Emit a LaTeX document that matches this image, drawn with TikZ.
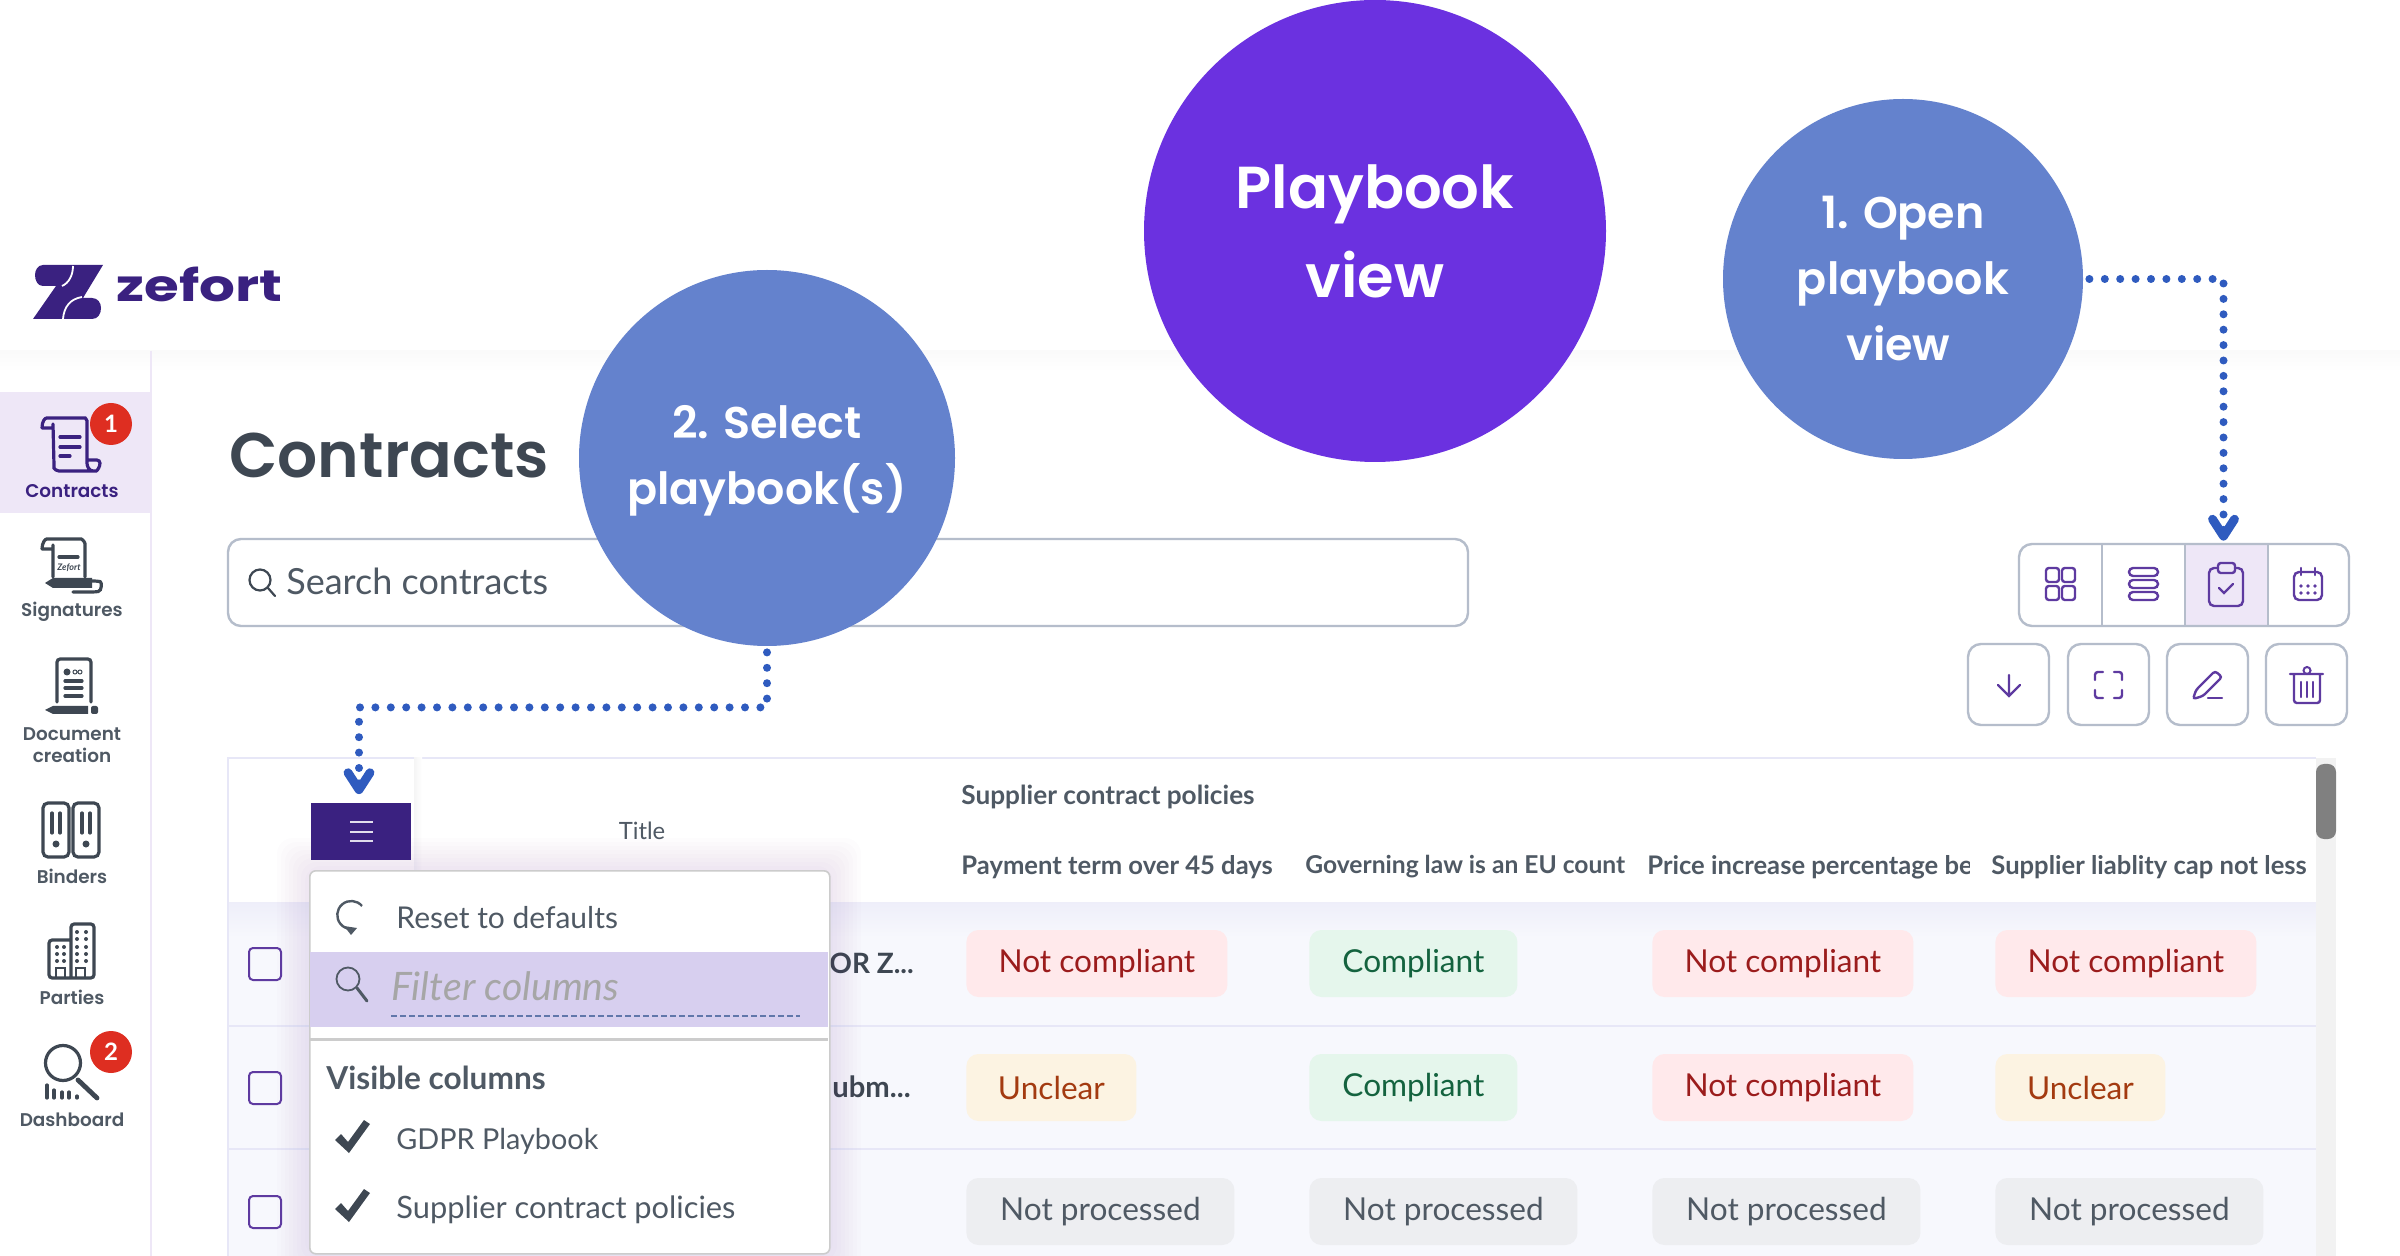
\documentclass[tikz,border=0pt]{standalone}
\usepackage{fontspec}
\setmainfont{Lato}
\newfontfamily\logofont[FakeStretch=1.28]{Poppins Bold}
\newfontfamily\popmed{Poppins SemiBold}
\usetikzlibrary{arrows.meta,calc}

\definecolor{bubbleblue}{HTML}{6482CD}
\definecolor{bubbleviolet}{HTML}{6B31E0}
\definecolor{arrowblue}{HTML}{2F5BBF}
\definecolor{brandviolet}{HTML}{3A2180}
\definecolor{toolviolet}{HTML}{5E3AA0}
\definecolor{softviolet}{HTML}{EEE7F7}
\definecolor{bandviolet}{HTML}{D7CFEF}
\definecolor{inkgrey}{HTML}{3E4752}
\definecolor{midgrey}{HTML}{4F5964}
\definecolor{framegrey}{HTML}{B5BDCB}
\definecolor{rowtint}{HTML}{F7F8FD}
\definecolor{rowline}{HTML}{E7E7F7}
\definecolor{badgered}{HTML}{DE2E21}
\definecolor{failbg}{HTML}{FFE9EB}
\definecolor{failtext}{HTML}{9B1C1C}
\definecolor{passbg}{HTML}{E5F6EC}
\definecolor{passtext}{HTML}{14633F}
\definecolor{vaguebg}{HTML}{FCF3E2}
\definecolor{vaguetext}{HTML}{A33A10}
\definecolor{idlebg}{HTML}{EDEEF1}

\tikzset{
  bubble/.style={circle,inner sep=0pt,text=white,align=center},
  dotarrow/.style={draw=arrowblue,line width=4pt,line cap=round,dash pattern=on 0pt off 7.7pt,
    -{Straight Barb[round,length=8.5pt,width=11pt,line width=4.4pt]}},
  pill/.style={rounded corners=6pt,minimum height=33.5pt,inner sep=0pt,
    font=\fontsize{15.8}{18}\selectfont},
  notcomp/.style={pill,fill=failbg,text=failtext,minimum width=130.5pt},
  comp/.style={pill,fill=passbg,text=passtext,minimum width=104pt},
  unclear/.style={pill,fill=vaguebg,text=vaguetext,minimum width=85pt},
  notproc/.style={pill,fill=idlebg,text=midgrey,minimum width=134pt},
  headtext/.style={anchor=west,inner sep=0pt,text=midgrey,font=\fontsize{12.8}{15}\selectfont\bfseries},
  menutext/.style={anchor=west,inner sep=0pt,text=midgrey,font=\fontsize{15}{18}\selectfont},
  sidetext/.style={inner sep=0pt,text=midgrey,align=center,font=\popmed\fontsize{9.2}{11}\selectfont},
  sideicon/.style={draw=inkgrey,line width=1.6pt,line cap=round,rounded corners=1.6pt},
  toolicon/.style={draw=toolviolet,line width=1.2pt,line cap=round,rounded corners=1.4pt},
  framebox/.style={draw=framegrey,line width=1.2pt,rounded corners=6.5pt},
  tickbox/.style={draw=toolviolet,line width=1pt,rounded corners=2pt},
  badge/.style={circle,fill=badgered,text=white,inner sep=0pt,minimum size=21pt,
    font=\fontsize{12}{14}\selectfont\bfseries},
}

\begin{document}
\begin{tikzpicture}[x=0.5pt,y=-0.5pt]
  \useasboundingbox (0,0) rectangle (2400,1256);
  \fill[white] (0,0) rectangle (2400,1256);
  \shade[top color=black!2,bottom color=white] (0,351) rectangle (2400,372);
  \draw[softviolet,line width=1pt] (151,351) -- (151,1256);

  % logo
  \fill[brandviolet] (43,265) -- (103,265) -- (83,298) -- (92,298) .. controls (98,298) and (101,303) .. (101,308)
    .. controls (101,314) and (98,319) .. (92,319) -- (33,319) -- (56,286) -- (43,286)
    .. controls (38,286) and (35,281) .. (35,275) .. controls (35,270) and (38,265) .. (43,265) -- cycle;
  \draw[white,line width=0.9pt] (73,266) .. controls (73,275) and (69,283) .. (62,286);
  \draw[white,line width=0.9pt] (82,297) .. controls (70,299) and (64,307) .. (63,319);
  \node[anchor=base west,inner sep=0pt,text=brandviolet,font=\logofont\fontsize{22}{26}\selectfont] (brand) at (116,302) {zefort};

  % sidebar
  \fill[softviolet] (0,392) rectangle (150,513);
  \foreach \name/\y/\lbl in {signlabel/612/Signatures,doclabel/745/Document\\creation,binderlabel/876/Binders,partylabel/997/Parties,dashlabel/1120/Dashboard}
    \node[sidetext] (\name) at (72,\y) {\lbl};
  \node[sidetext,text=brandviolet] (contractlabel) at (72,491) {Contracts};

  % contracts icon
  \draw[sideicon,draw=brandviolet] (42,428) -- (53,428) (42,428) .. controls (42,421) and (45,418) .. (50,418) -- (82,418)
    .. controls (85,418) and (87,420) .. (87,424) -- (87,460) .. controls (87,466) and (89,471) .. (93,471)
    (53,424) -- (54,465) .. controls (54,469) and (57,471) .. (62,471) -- (93,471) .. controls (97,471) and (100,467) .. (100,460) -- (87,460);
  \draw[sideicon,draw=brandviolet] (60,437) -- (80,437) (60,447) -- (80,447) (60,456) -- (70,456);
  \node[badge] (contractbadge) at (111,424) {1};

  % signatures icon
  \draw[sideicon] (42,549) -- (53,549) (42,549) .. controls (42,543) and (45,539) .. (50,539) -- (78,539)
    .. controls (82,539) and (85,542) .. (85,547) -- (85,577) (53,545) -- (53,577);
  \draw[sideicon] (59,557) -- (78,557);
  \node[inner sep=0pt,text=inkgrey,font=\fontsize{4.5}{5}\selectfont\itshape\bfseries] (signmark) at (69,568) {Zefort};
  \fill[inkgrey] (45,583) -- (53,578) -- (92,578) -- (92,588) -- (53,588) -- cycle;
  \draw[sideicon] (92,581) -- (97,581) .. controls (102,582) and (102,591) .. (95,592) -- (73,592);

  % document icon
  \draw[sideicon] (57,702) -- (57,659) -- (91,659) -- (91,702);
  \fill[inkgrey] (67,672) circle (3.5);
  \draw[inkgrey,line width=0.5pt] (75,672) circle (2) (80,672) circle (2);
  \draw[sideicon] (65,681) -- (82,681) (65,688) -- (82,688) (65,696) -- (82,696);
  \fill[inkgrey] (45,710) -- (53,706) -- (88,706) -- (88,714) -- (53,714) -- cycle;
  \fill[inkgrey,rounded corners=1pt] (91,706) rectangle (98,714);

  % binders icon
  \draw[sideicon,rounded corners=2.5pt] (43,803) rectangle (69,857);
  \draw[sideicon,rounded corners=2.5pt] (73,803) rectangle (99,857);
  \foreach \x in {52,60,82,90} \draw[sideicon] (\x,813) -- (\x,833);
  \fill[inkgrey] (56,844) circle (3.5) (86,844) circle (3.5);

  % parties icon
  \draw[sideicon] (70,940) -- (49,940) -- (49,978) -- (94,978) -- (94,924) -- (71,924) -- (71,978);
  \foreach \x/\y in {57/947,64/947,57/954,64/954,57/961,64/961,77/932,86/932,77/939,86/939,77/947,86/947,77/954,86/954,77/961,86/961}
    \fill[inkgrey] (\x,\y) circle (2);
  \draw[inkgrey,line width=1.2pt] (56,978) -- (56,968) -- (65,968) -- (65,978) (76,978) -- (76,968) -- (85,968) -- (85,978);

  % dashboard icon
  \draw[inkgrey,line width=1.6pt] (63,1063) circle (17.5);
  \draw[inkgrey,line width=2.4pt,line cap=round] (78,1080) -- (97,1098);
  \foreach \x/\y in {47/1085,54/1090,62/1092,69/1092,77/1096}
    \draw[inkgrey,line width=1.6pt,line cap=round] (\x,\y) -- (\x,1098);
  \node[badge] (dashbadge) at (111,1052) {2};

  % heading and search
  \node[anchor=west,inner sep=0pt,text=inkgrey,font=\popmed\fontsize{31.5}{38}\selectfont] (pagetitle) at (229,456) {Contracts};
  \draw[framebox] (228,539) rectangle (1468,626);
  \draw[inkgrey,line width=1.1pt] (260,580) circle (10.5);
  \draw[inkgrey,line width=1.1pt,line cap=round] (268,588) -- (275,596);
  \node[menutext,font=\fontsize{18}{22}\selectfont] (searchtext) at (286,581) {Search contracts};

  % toolbar
  \node[fill=softviolet,inner sep=0pt,minimum width=41.5pt,minimum height=41pt] (planbtn) at (2226.5,585) {};
  \draw[framebox] (2019,544) rectangle (2349,626);
  \foreach \x in {2102,2185,2268} \draw[framegrey,line width=1.2pt] (\x,544) -- (\x,626);
  \foreach \x in {1968,2068,2167,2266} \draw[framebox] (\x,644) rectangle ++(81,81);
  \foreach \x/\y in {2046/568,2062/568,2046/586,2062/586}
    \draw[toolicon] (\x,\y) rectangle ++(13,14);
  \foreach \y in {568,580,592} \draw[toolicon,rounded corners=2pt] (2129,\y) rectangle (2158,{\y+8});
  \draw[toolicon,rounded corners=2.5pt] (2218,568) -- (2209,568) -- (2209,606) -- (2243,606) -- (2243,568) -- (2235,568);
  \draw[toolicon] (2218,563) rectangle (2235,573);
  \draw[toolicon,rounded corners=0pt] (2219,588) -- (2224,593) -- (2233,584);
  \draw[toolicon,rounded corners=2.5pt] (2294,572) rectangle (2322,600);
  \draw[toolicon] (2301,568) -- (2301,575) (2315,568) -- (2315,575);
  \foreach \x in {2301,2308,2315} \fill[toolviolet] (\x,586) circle (1.8) (\x,593) circle (1.8);
  \draw[toolicon,rounded corners=0pt] (2009,675) -- (2009,695) (1998,685) -- (2009,696) -- (2020,685);
  \draw[toolicon] (2095,680) -- (2095,672) -- (2103,672) (2114,672) -- (2122,672) -- (2122,680) (2122,690) -- (2122,698) -- (2114,698) (2103,698) -- (2095,698) -- (2095,690);
  \draw[toolicon] (2193,699) -- (2196,690) -- (2215,671) -- (2222,677) -- (2203,696) -- cycle;
  \draw[toolicon] (2208,698) -- (2222,698);
  \draw[toolicon] (2290,674) -- (2323,674) (2294,674) -- (2294,703) -- (2320,703) -- (2320,674);
  \draw[toolviolet,line width=1pt] (2307,670.5) circle (3.5);
  \foreach \x in {2301,2307,2313} \draw[toolicon] (\x,682) -- (\x,697);

  % table
  \fill[rowtint] (228,902) rectangle (2316,1256);
  \shade[top color=rowline!70,bottom color=rowtint] (228,902) rectangle (2316,937);
  \draw[rowline,line width=0.8pt] (228,1256) -- (228,758) -- (2316,758);
  \draw[rowline,line width=1pt] (228,1026) -- (2316,1026) (228,1149) -- (2316,1149);
  \shade[left color=black!4,right color=white] (414,758) rectangle (422,901);
  \fill[black!5] (2316,758) rectangle (2336,1256);
  \fill[black!50,rounded corners=4pt] (2316,764) rectangle (2336,839);

  \node[inner sep=0pt,text=midgrey,font=\fontsize{11.9}{14}\selectfont] (titlehead) at (642,831) {Title};
  \node[headtext,font=\fontsize{13.1}{15}\selectfont\bfseries] (grouphead) at (961,797) {Supplier contract policies};
  \node[headtext] (payhead) at (961,867) {Payment term over 45 days};
  \node[headtext,font=\fontsize{12.3}{15}\selectfont\bfseries] (lawhead) at (1305,867) {Governing law is an EU count};
  \begin{scope}
    \clip (1640,850) rectangle (1969,885);
    \node[headtext] (pricehead) at (1647,867) {Price increase percentage be};
  \end{scope}
  \node[headtext] (caphead) at (1991,867) {Supplier liablity cap not less};

  \foreach \name/\y in {rowa/947,rowb/1071,rowc/1195}
    \node[tickbox,minimum size=16pt,inner sep=0pt,anchor=north west] (\name) at (248,\y) {};

  \node[anchor=west,inner sep=0pt,text=inkgrey,font=\fontsize{14}{17}\selectfont\bfseries] (rowatext) at (829,963) {OR Z...};
  \node[anchor=west,inner sep=0pt,text=inkgrey,font=\fontsize{14.6}{17}\selectfont\bfseries] (rowbtext) at (832,1087) {ubm...};

  \foreach \name/\x/\y/\kind/\lbl in {
      pa/966/963.5/notcomp/Not compliant, pb/1309/963.5/comp/Compliant, pc/1652/963.5/notcomp/Not compliant, pd/1995/963.5/notcomp/Not compliant,
      qa/966/1087.5/unclear/Unclear, qb/1309/1087.5/comp/Compliant, qc/1652/1087.5/notcomp/Not compliant, qd/1995/1087.5/unclear/Unclear,
      ra/966/1211.5/notproc/Not processed, rb/1309/1211.5/notproc/Not processed, rc/1652/1211.5/notproc/Not processed, rd/1995/1211.5/notproc/Not processed}
    \node[\kind,anchor=west] (\name) at (\x,\y) {\lbl};

  % column menu
  \node[fill=brandviolet,inner sep=0pt,minimum width=50pt,minimum height=28.5pt] (menubtn) at (361,831) {};
  \draw[white!85!brandviolet,line width=0.8pt] (350,822) -- (373,822) (350,832) -- (373,832) (350,841) -- (373,841);
  \foreach \g in {4,8,...,32}
    \fill[toolviolet,opacity=0.012,rounded corners=8pt] ({309-\g},{870-\g}) rectangle ({829+\g},{1253+\g});
  \node[draw=black!20,fill=white,line width=0.8pt,rounded corners=3pt,inner sep=0pt,minimum width=260pt,minimum height=191.5pt,anchor=north west] (menubox) at (309,870) {};
  \fill[bandviolet] (310,952) rectangle (828,1027);
  \draw[black!20,line width=1.5pt] (310,1039) -- (828,1039);
  \draw[midgrey,line width=1.2pt] (362,906) arc[start angle=-40,end angle=-265,radius=14];
  \fill[midgrey] (344,926) -- (357,928) -- (351,935) -- cycle;
  \node[menutext] (resettext) at (396,918) {Reset to defaults};
  \draw[midgrey,line width=0.9pt] (348,979) circle (11.5);
  \draw[midgrey,line width=1.5pt,line cap=round] (357,988) -- (367,1001);
  \node[menutext,text=black!35,font=\fontsize{19.6}{23}\selectfont\itshape] (filtertext) at (391,986) {Filter columns};
  \draw[cyan!40!blue!55!gray,line width=1pt,dash pattern=on 3pt off 1.5pt] (391,1016) -- (800,1016);
  \node[menutext,font=\fontsize{15.8}{18}\selectfont\bfseries] (visiblehead) at (326,1078) {Visible columns};
  \node[menutext,font=\fontsize{14.4}{18}\selectfont] (gdprtext) at (396,1141) {GDPR Playbook};
  \node[menutext,font=\fontsize{15.4}{18}\selectfont] (suppliertext) at (396,1210) {Supplier contract policies};
  \foreach \y in {0,69}
    \fill[inkgrey,shift={(0,\y)}] (335,1140) -- (341,1134) -- (348,1142) -- (364,1120) -- (370,1124) -- (349,1153) -- cycle;

  % bubbles
  \node[bubble,fill=bubbleviolet,minimum size=231pt,font=\popmed\fontsize{29.6}{44.5}\selectfont] (viewbubble) at (1375,231) {Playbook\\view};
  \node[bubble,fill=bubbleblue,minimum size=180pt,font=\popmed\fontsize{22.2}{33}\selectfont] (openbubble) at (1903,279) {1. Open\\playbook\\\hspace*{-4.6pt}view};
  \node[bubble,fill=bubbleblue,minimum size=188pt,font=\popmed\fontsize{22.2}{33}\selectfont] (selectbubble) at (767,458) {\rule{0pt}{19pt}2. Select\\playbook(s)};

  \coordinate (selectbend) at ($(selectbubble.south)+(0,61)$);
  \draw[dotarrow,shorten <=3pt,shorten >=1.5pt] (openbubble.east) -| ([xshift=-1.5pt]planbtn.north);
  \draw[dotarrow,shorten <=3pt,shorten >=4pt] (selectbubble.south) -- (selectbend) -| ([xshift=-1pt]menubtn.north);
\end{tikzpicture}
\end{document}
